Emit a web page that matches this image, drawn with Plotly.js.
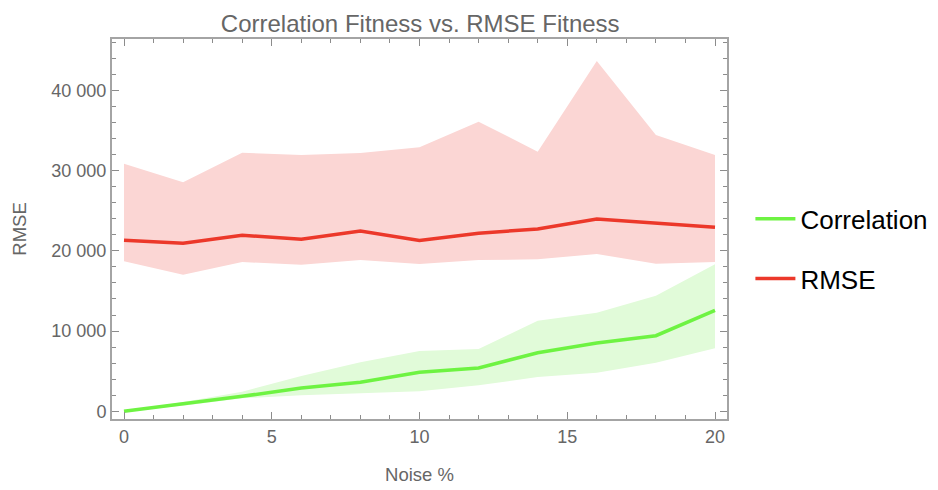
<!DOCTYPE html>
<html>
<head>
<meta charset="utf-8">
<script src="https://cdn.plot.ly/plotly-3.0.1.min.js"></script>
<style>
  html, body { margin: 0; padding: 0; background: #fff; }
  #chart { width: 938px; height: 490px; }
</style>
</head>
<body>
<div id="chart"></div>
<script>
// noise levels in %
var noise = [0, 2, 4, 6, 8, 10, 12, 14, 16, 18, 20];

// RMSE fitness: mean and band
var rmseMean  = [21300, 20930, 21930, 21430, 22470, 21300, 22200, 22720, 23960, 23430, 22930];
var rmseLow   = [18690, 17020, 18600, 18270, 18850, 18350, 18850, 18940, 19600, 18390, 18600];
var rmseHigh  = [30850, 28530, 32220, 31940, 32190, 32890, 36090, 32350, 43650, 34430, 31940];

// Correlation fitness: mean and band
var corrMean  = [0, 910, 1870, 2900, 3610, 4860, 5400, 7300, 8510, 9420, 12590];
var corrLow   = [0, 700, 1620, 1990, 2240, 2490, 3240, 4270, 4810, 6060, 7850];
var corrHigh  = [0, 1150, 2440, 4400, 6100, 7510, 7760, 11290, 12290, 14400, 18310];

var red = 'rgb(236,56,42)', redBand = 'rgb(251,214,212)';
var green = 'rgb(110,243,66)', greenBand = 'rgb(225,251,217)';

var data = [
  { x: noise, y: rmseLow, mode: 'lines', line: {width: 0}, showlegend: false, hoverinfo: 'skip' },
  { x: noise, y: rmseHigh, mode: 'lines', line: {width: 0}, fill: 'tonexty', fillcolor: redBand, showlegend: false, hoverinfo: 'skip' },
  { x: noise, y: corrLow, mode: 'lines', line: {width: 0}, showlegend: false, hoverinfo: 'skip' },
  { x: noise, y: corrHigh, mode: 'lines', line: {width: 0}, fill: 'tonexty', fillcolor: greenBand, showlegend: false, hoverinfo: 'skip' },
  { x: noise, y: corrMean, mode: 'lines', name: 'Correlation', legendgroup: 'a', line: {color: green, width: 3.5} },
  { x: noise, y: rmseMean, mode: 'lines', name: 'RMSE', legendgroup: 'b', line: {color: red, width: 3.5} }
];

var axisStyle = {
  showgrid: false,
  zeroline: false,
  showline: true,
  linecolor: '#a4a4a4',
  linewidth: 2,
  mirror: 'ticks',
  ticks: 'inside',
  ticklen: 7,
  tickwidth: 1,
  tickcolor: '#8c8c8c',
  tickfont: { family: 'Liberation Sans, Arial', size: 18, color: '#666' }
};

var layout = {
  width: 938,
  height: 490,
  margin: { l: 112, r: 211, t: 39, b: 71 },
  paper_bgcolor: '#fff',
  plot_bgcolor: '#fff',
  separators: '. ',
  title: {
    text: 'Correlation Fitness vs. RMSE Fitness',
    font: { family: 'Liberation Sans, Arial', size: 24, color: '#666' },
    x: 0.448, xanchor: 'center', y: 0.952, yanchor: 'middle'
  },
  xaxis: Object.assign({}, axisStyle, {
    range: [-0.406, 20.406],
    tickvals: [0, 5, 10, 15, 20],
    minor: { dtick: 1, tick0: 0, ticks: 'inside', ticklen: 4, tickcolor: '#8c8c8c' },
    title: { text: 'Noise %', standoff: 22, font: { family: 'Liberation Sans, Arial', size: 18.5, color: '#666' } }
  }),
  yaxis: Object.assign({}, axisStyle, {
    range: [-959, 46392],
    tickvals: [0, 10000, 20000, 30000, 40000],
    tickformat: ',d',
    minor: { dtick: 2000, tick0: 0, ticks: 'inside', ticklen: 4, tickcolor: '#8c8c8c' },
    title: { text: 'RMSE', standoff: 20, font: { family: 'Liberation Sans, Arial', size: 18.5, color: '#666' } }
  }),
  showlegend: true,
  legend: {
    xref: 'container', yref: 'container',
    x: 0.8, xanchor: 'left',
    y: 0.492, yanchor: 'middle',
    traceorder: 'grouped',
    tracegroupgap: 23,
    itemwidth: 40,
    font: { family: 'Liberation Sans, Arial', size: 26, color: '#000' },
    bgcolor: 'rgba(0,0,0,0)'
  }
};

Plotly.newPlot('chart', data, layout, { displayModeBar: false });
</script>
</body>
</html>
